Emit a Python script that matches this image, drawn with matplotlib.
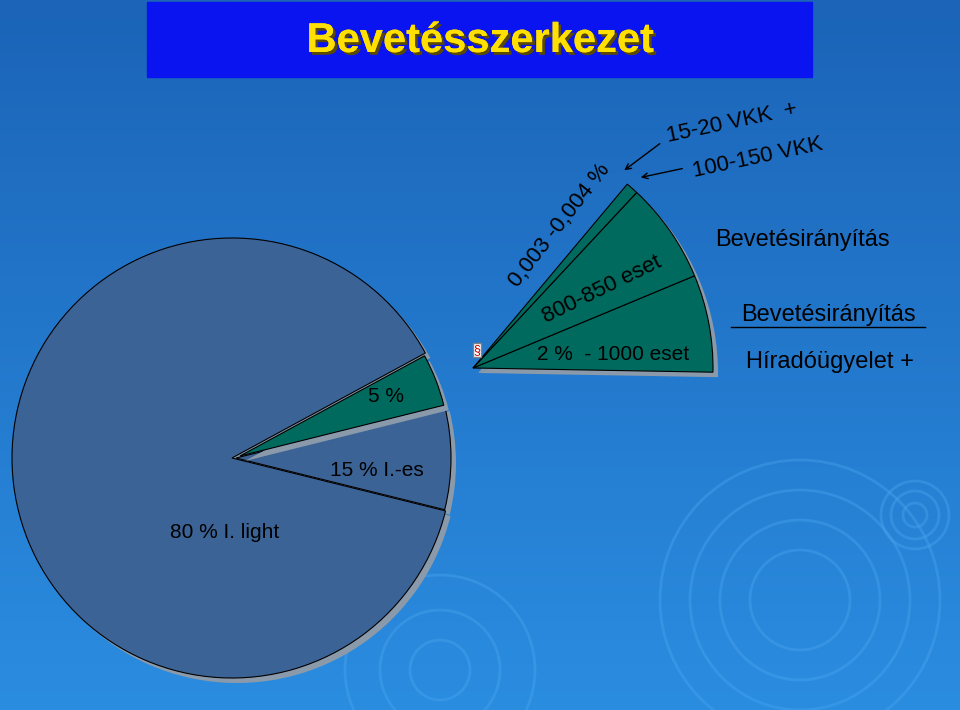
import matplotlib
matplotlib.use("Agg")
import matplotlib.pyplot as plt
import numpy as np
from matplotlib.patches import Wedge, Rectangle, Circle
import matplotlib.patheffects as pe
from matplotlib.colors import LinearSegmentedColormap

plt.rcParams['font.family'] = ['Liberation Sans', 'DejaVu Sans']

title = "Bevetésszerkezet"
main_labels = ["80 % I. light", "15 % I.-es", "5 %"]
main_shares = [87.6, 7.7, 4.0]          # angular share as drawn
detail_labels = ["2 %  - 1000 eset", "800-850 eset", "0,003 -0,004 %"]
detail_angles = [23.6, 24.4, 3.0]       # degrees as drawn
right_texts = ["Bevetésirányítás", "Bevetésirányítás", "Híradóügyelet +"]
vkk_texts = ["15-20 VKK  +", "100-150 VKK"]

W, H = 960, 710
fig = plt.figure(figsize=(9.6, 7.1), dpi=100)
ax = fig.add_axes([0, 0, 1, 1])
ax.set_xlim(0, W); ax.set_ylim(0, H); ax.axis("off")

grad = np.linspace(0, 1, 256).reshape(-1, 1)
cm = LinearSegmentedColormap.from_list("bg", ["#2b8de0", "#1b64b8"])
ax.imshow(grad, extent=[0, W, 0, H], cmap=cm, aspect="auto", origin="lower", zorder=0)
for cx, cy, rs in [(800, 110, [50, 80, 110, 140]), (440, 40, [30, 60, 95]), (915, 195, [12, 24, 34])]:
    for r in rs:
        ax.add_patch(Circle((cx, cy), r, fill=False, ec="#4aa6f0", lw=2, alpha=0.4, zorder=0.5))

Y = lambda p: H - p
ax.add_patch(Rectangle((147, Y(77)), 665, 75, color="#0a14f0", zorder=1))
ax.text(480, Y(41), title, color="#ffe000", fontsize=30, fontweight="bold", ha="center", va="center", zorder=3,
        path_effects=[pe.withSimplePatchShadow(offset=(2, -2), shadow_rgbFace="#5a4a00", alpha=1), pe.Normal()])

cx, cy, R = 232, Y(458), 220
blue, green, shadow = "#3c6396", "#006a5e", "#8a9aaa"
tot = sum(main_shares)
angs = [s / tot * 360 for s in main_shares]
w80 = (28.5, 28.5 + angs[0])
w15 = (w80[1], w80[1] + angs[1])
w5 = (w15[1], w15[1] + angs[2])
def wedge(c, r, a, fc, z, off=(5, -5)):
    ax.add_patch(Wedge((c[0] + off[0], c[1] + off[1]), r, a[0], a[1], fc=shadow, ec="none", zorder=z - 0.1))
    ax.add_patch(Wedge(c, r, a[0], a[1], fc=fc, ec="black", lw=0.8, zorder=z))
wedge((cx, cy), R, w80, blue, 2)
wedge((cx + 4, cy), R - 5, w15, blue, 2)
wedge((cx + 8, cy + 2), R - 10, w5, green, 2.2)

ax.text(170, Y(532), main_labels[0], fontsize=15, color="black", va="center", zorder=4)
ax.text(330, Y(471), main_labels[1], fontsize=15, color="black", va="center", zorder=4)
ax.text(368, Y(396), main_labels[2], fontsize=15, color="black", va="center", zorder=4)

dc, dR = (473, Y(368)), 240
a = -1.0
for ang in detail_angles:
    wedge(dc, dR, (a, a + ang), green, 2)
    a += ang
ax.text(477, Y(350), "§", fontsize=9, color="#c00000", ha="center", va="center", zorder=4,
        bbox=dict(fc="white", ec="gray", pad=0.5))

ax.text(537, Y(355), detail_labels[0], fontsize=15, color="black", va="center", zorder=4)
ax.text(602, Y(290), detail_labels[1], fontsize=16, color="black", rotation=26, ha="center", va="center", zorder=4)
ax.text(560, Y(225), detail_labels[2], fontsize=16, color="black", rotation=52, ha="center", va="center", zorder=4)
ax.text(732, Y(123), vkk_texts[0], fontsize=16, color="black", rotation=12, ha="center", va="center", zorder=4)
ax.text(758, Y(158), vkk_texts[1], fontsize=16, color="black", rotation=12, ha="center", va="center", zorder=4)
ax.annotate("", xy=(622, Y(172)), xytext=(662, Y(142)), arrowprops=dict(arrowstyle="->", color="black", lw=1), zorder=4)
ax.annotate("", xy=(638, Y(178)), xytext=(685, Y(168)), arrowprops=dict(arrowstyle="->", color="black", lw=1), zorder=4)

ax.text(802, Y(240), right_texts[0], fontsize=17, color="black", ha="center", va="center", zorder=4)
ax.text(828, Y(315), right_texts[1], fontsize=17, color="black", ha="center", va="center", zorder=4)
ax.plot([731, 925], [Y(327), Y(327)], color="black", lw=1, zorder=4)
ax.text(830, Y(362), right_texts[2], fontsize=17, color="black", ha="center", va="center", zorder=4)

fig.savefig("out.png", dpi=100)
